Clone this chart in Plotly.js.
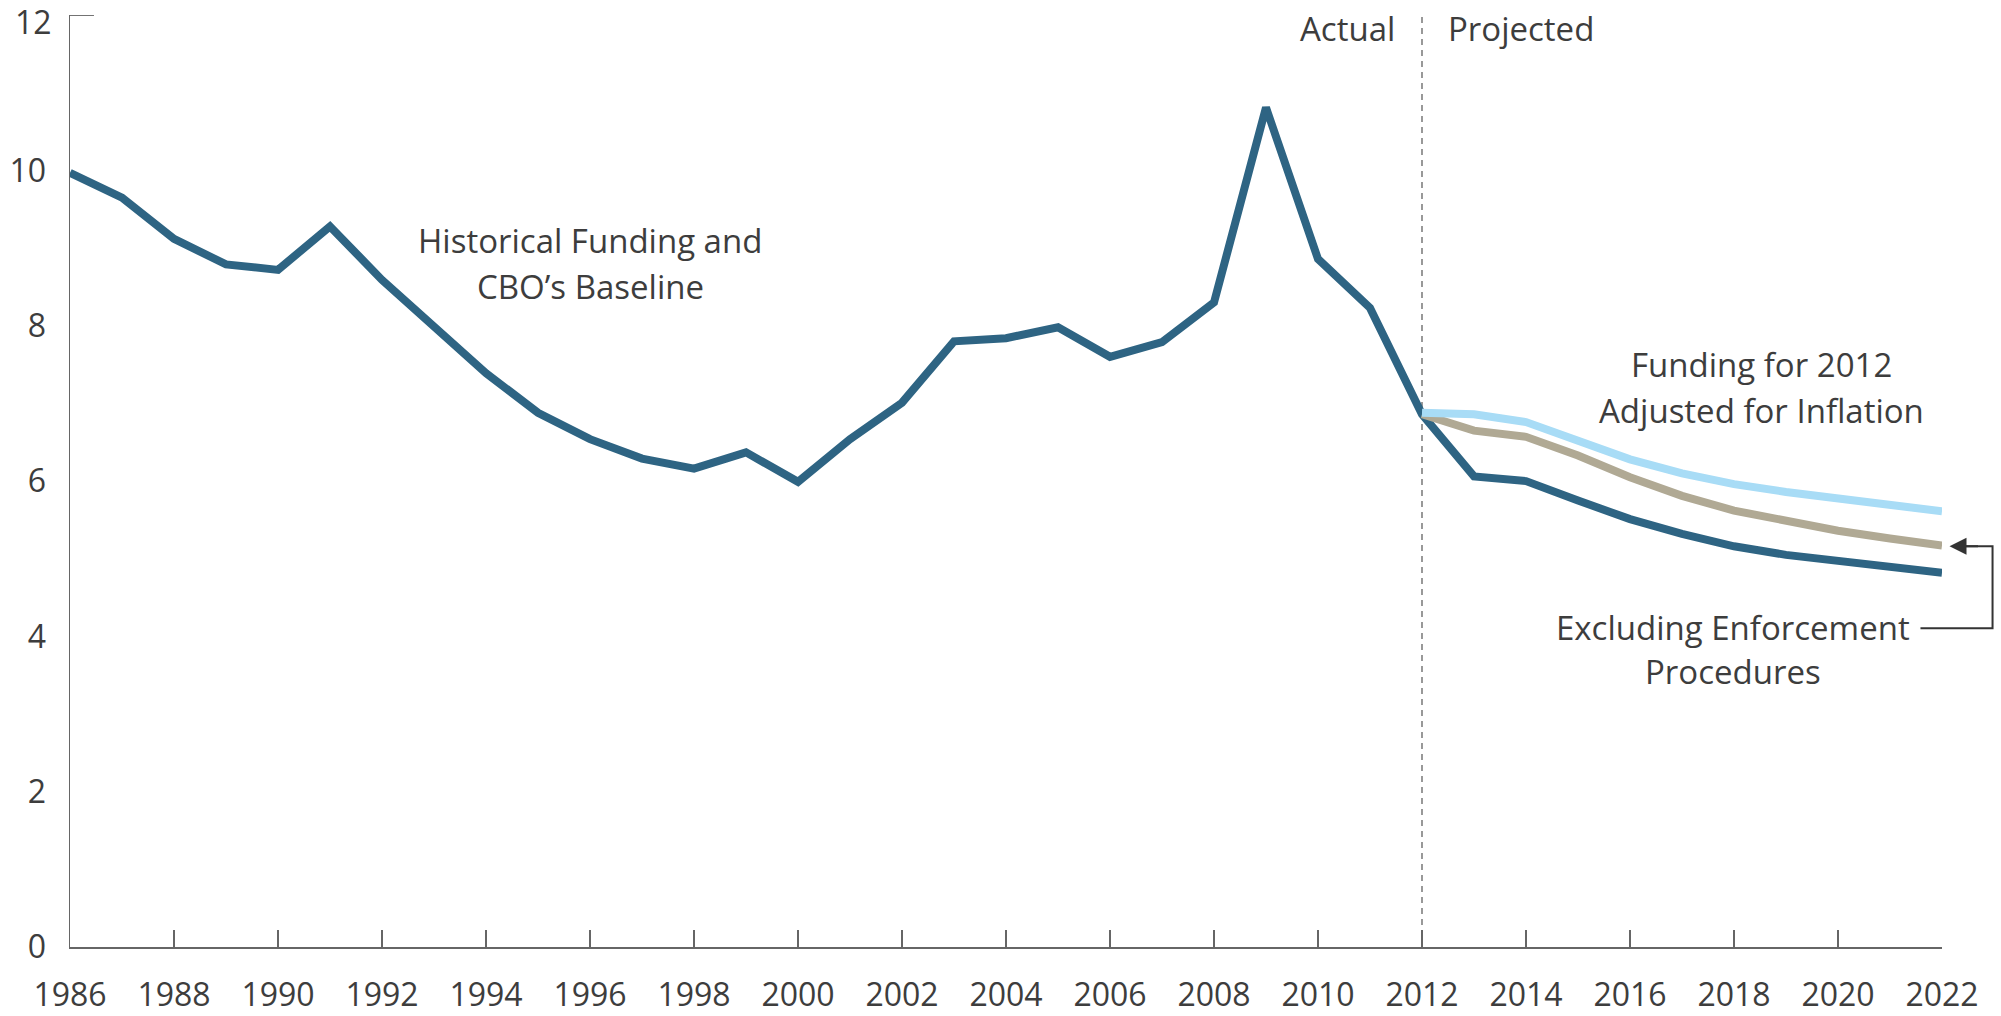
<!DOCTYPE html>
<html>
<head>
<meta charset="utf-8">
<script src="https://cdn.plot.ly/plotly-3.0.1.min.js"></script>
<style>html,body{margin:0;padding:0;background:#fff;}#chart{width:2001px;height:1016px;}</style>
</head>
<body>
<div id="chart"></div>
<script>
// Historical funding and CBO's baseline (1986-2022)
const years = [1986,1987,1988,1989,1990,1991,1992,1993,1994,1995,1996,1997,1998,1999,2000,2001,2002,2003,2004,2005,2006,2007,2008,2009,2010,2011,2012,2013,2014,2015,2016,2017,2018,2019,2020,2021,2022];
const baseline = [9.97,9.65,9.12,8.79,8.72,9.28,8.59,8.00,7.39,6.88,6.54,6.29,6.16,6.37,5.99,6.54,7.01,7.80,7.84,7.98,7.60,7.79,8.30,10.81,8.86,8.23,6.86,6.06,6.00,5.75,5.51,5.32,5.16,5.05,4.97,4.89,4.82];
// Projections 2012-2022
const projYears = [2012,2013,2014,2015,2016,2017,2018,2019,2020,2021,2022];
const inflationAdj = [6.88,6.86,6.76,6.52,6.28,6.10,5.96,5.86,5.78,5.70,5.61];
const exclEnforcement = [6.86,6.65,6.57,6.33,6.05,5.81,5.62,5.49,5.36,5.26,5.17];
const xTicks = [1986,1988,1990,1992,1994,1996,1998,2000,2002,2004,2006,2008,2010,2012,2014,2016,2018,2020,2022];
const yTicks = [0,2,4,6,8,10,12];
const dividerYear = 2012;

const FONT = '"Open Sans", "Noto Sans", sans-serif';
const TXT = '#3d3d3d';
const yTop = yTicks[yTicks.length - 1];

const traces = [
  {x: years, y: baseline, mode: 'lines', line: {color: '#2e6483', width: 8}},
  {x: projYears, y: exclEnforcement, mode: 'lines', line: {color: '#b0a994', width: 8}},
  {x: projYears, y: inflationAdj, mode: 'lines', line: {color: '#a8dcf6', width: 8}}
];

function label(x, y, text, xanchor) {
  return {x: x, y: y, xref: 'x', yref: 'y', text: text, showarrow: false,
          xanchor: xanchor || 'center', yanchor: 'middle',
          font: {family: FONT, size: 33, color: TXT}};
}

const layout = {
  width: 2001, height: 1016,
  margin: {l: 70, r: 59, t: 15, b: 69},
  paper_bgcolor: '#fff', plot_bgcolor: '#fff',
  showlegend: false,
  font: {family: FONT, size: 32, color: TXT},
  xaxis: {
    range: [1986, 2022], tickvals: xTicks, ticktext: xTicks.map(String),
    ticks: 'inside', ticklen: 17, tickwidth: 1.5, tickcolor: '#666',
    showline: true, linecolor: '#666', linewidth: 1.5,
    showgrid: false, zeroline: false,
    ticklabelstandoff: 19, ticklabeloverflow: 'allow',
    tickfont: {family: FONT, size: 32, color: TXT}
  },
  yaxis: {
    range: [0, 12.002], tickvals: yTicks.slice(0, -1), ticktext: yTicks.slice(0, -1).map(String),
    ticks: '', showline: true, linecolor: '#666', linewidth: 1.5,
    showgrid: false, zeroline: false,
    ticklabelstandoff: 16, ticklabeloverflow: 'allow',
    tickfont: {family: FONT, size: 32, color: TXT}
  },
  shapes: [
    {type: 'line', xref: 'x', yref: 'y', x0: dividerYear, x1: dividerYear, y0: 0, y1: yTop,
     line: {color: '#555', width: 1.2, dash: '6px,5px'}, layer: 'below'},
    {type: 'line', xref: 'paper', yref: 'y', x0: 0, x1: 0.0128, y0: yTop, y1: yTop,
     line: {color: '#666', width: 1.5}},
    {type: 'path', xref: 'paper', yref: 'paper',
     path: 'M 0.9885 0.342 L 1.027 0.342 L 1.027 0.430 L 1.012 0.430',
     line: {color: '#333', width: 2}}
  ],
  annotations: [
    {x: 0, y: yTop, xref: 'paper', yref: 'y', text: String(yTop), showarrow: false,
     xanchor: 'right', yanchor: 'middle', xshift: -16, yshift: -6,
     font: {family: FONT, size: 32, color: TXT}},
    label(2011.52, 11.83, 'Actual', 'right'),
    label(2012.46, 11.83, 'Projected', 'left'),
    label(1996.0, 9.10, 'Historical Funding and'),
    label(1996.0, 8.50, 'CBO’s Baseline'),
    label(2018.52, 7.50, 'Funding for 2012'),
    label(2018.52, 6.91, 'Adjusted for Inflation'),
    label(2017.98, 4.12, 'Excluding Enforcement'),
    label(2017.98, 3.55, 'Procedures'),
    {x: 1.004, y: 0.430, xref: 'paper', yref: 'paper', text: '', showarrow: true, ax: 30, ay: 0,
     arrowhead: 2, arrowsize: 1.7, arrowwidth: 2, arrowcolor: '#333'}
  ]
};

Plotly.newPlot('chart', traces, layout, {displayModeBar: false, staticPlot: true});
</script>
</body>
</html>
